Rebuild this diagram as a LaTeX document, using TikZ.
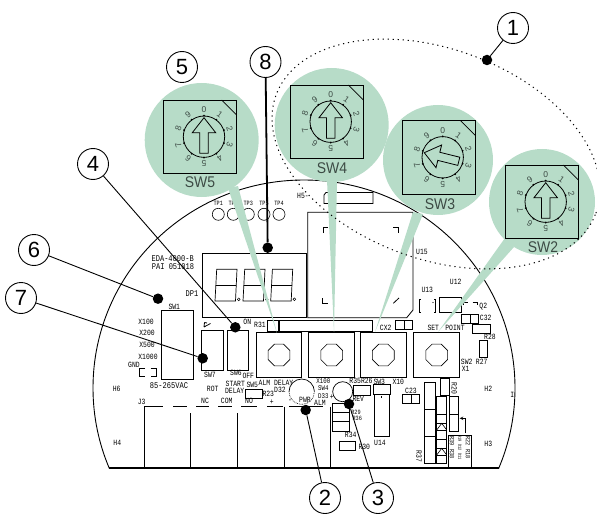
\documentclass[tikz,border=0pt]{standalone}
\usepackage{fontspec}
\setmainfont{Liberation Sans}
\newfontfamily\plotfont[FakeStretch=0.8]{Liberation Mono}
\newfontfamily\swfont[FakeStretch=0.9]{Liberation Sans}
\definecolor{mint}{HTML}{B7DCC8}
\definecolor{swtxt}{HTML}{3C4A44}
\newcounter{lbn}
\newcommand{\lb}[4][0]{\stepcounter{lbn}\node[tiny label,rotate=#1] (lb\thelbn) at (#2,#3) {#4};}
\newcommand{\smalltp}[1]{{\fontsize{6.5}{6.5}\selectfont #1}}
\newcommand{\narrowlb}[1]{{\fontsize{7.2}{7.2}\selectfont #1}}
\newcommand{\tinylb}[1]{{\fontsize{4.6}{5}\selectfont #1}}
\newcommand{\biglb}[1]{{\fontsize{8.8}{8.8}\selectfont #1}}
\newcommand{\swl}[3]{\stepcounter{lbn}\node[sw label] (lb\thelbn) at (#1,#2) {#3};}
\newcommand{\dial}[4]{%
 \begin{scope}[shift={(#1,#2)}]
  \draw[line width=.9pt] (-40.7,-36.7) rectangle (32.7,36.7);
  \draw[line width=.7pt] (17.7,-36.7) -- (32.7,-21.7);
  \draw[line width=.8pt] (0,0) circle[radius=20.7pt];
  \foreach \i in {0,...,9}{
   \pgfmathsetmacro{\a}{\i*36}
   \fill ({21*sin(\a)},{-21*cos(\a)}) circle[radius=1pt];
   \stepcounter{lbn}
   \node[dial digit,rotate=-\a] (lb\thelbn) at ({27*sin(\a)},{-27*cos(\a)}) {\i};
  }
  \begin{scope}[rotate=#3]
   \draw[line width=.8pt] (0,-19) -- (11.7,-4) -- (4.2,-4) -- (4.2,16.6) -- (-4.2,16.6) -- (-4.2,-4) -- (-11.7,-4) -- cycle;
  \end{scope}
 \end{scope}
 #4}
\newcommand{\btn}[3]{%
 \draw[line width=1pt] (#1,332.5) rectangle ++(45.8,45);
 \draw[line width=.6pt] (#2,355) +(22.5:11.8pt) -- +(67.5:11.8pt) -- +(112.5:11.8pt) -- +(157.5:11.8pt) -- +(202.5:11.8pt) -- +(247.5:11.8pt) -- +(292.5:11.8pt) -- +(337.5:11.8pt) -- cycle;}
\newcommand{\seg}[1]{%
 \begin{scope}[shift={(#1,0)}]
  \draw[line width=.7pt] (1.7,269.3) -- (22,269.3) -- (20.5,301) -- (0,301) -- cycle;
  \draw[line width=.7pt] (.9,285) -- (21.2,285);
  \draw[line width=.5pt] (23.7,299.3) circle[radius=1.4pt];
 \end{scope}}
\tikzset{
 tiny label/.style={font=\plotfont\fontsize{8}{8}\selectfont,inner sep=0pt,text=black},
 sw label/.style={font=\swfont\fontsize{15.5}{16}\selectfont,inner sep=0pt,text=swtxt},
 dial digit/.style={font=\fontsize{8.5}{9}\selectfont,inner sep=0pt,text=swtxt},
 callout/.style={circle,draw,line width=.9pt,minimum size=31pt,inner sep=0pt,font=\fontsize{22}{24}\selectfont,fill=white},
 dotmark/.style={circle,fill=black,minimum size=10.5pt,inner sep=0pt},
 comp/.style={line width=.8pt},
 leader/.style={line width=.9pt},
 bubble/.style={fill=mint,draw=none},
}
\begin{document}
\begin{tikzpicture}[x=1pt,y=-1pt]
\useasboundingbox (0,0) rectangle (597,516);
% board outline
\begin{scope}
 \clip (0,0) rectangle (597,468);
 \draw[line width=.9pt] (304,388) ellipse[x radius=211pt,y radius=208pt];
\end{scope}
\draw[line width=1.2pt] (109,468) -- (499,468);
% test points
\foreach \x in {218.3,233.3,248.3,264,279}{\draw[line width=.6pt] (\x,214.3) circle[radius=6pt];}
\lb{218.3}{203.5}{\smalltp{TP1}}\lb{233.3}{203.5}{\smalltp{TP2}}\lb{248.3}{203.5}{\smalltp{TP3}}\lb{264}{203.5}{\smalltp{TP5}}\lb{279}{203.5}{\smalltp{TP4}}
\lb{303}{196}{H5-}
% top connector
\draw[comp] (326,192.5) -- (373,192.5) -- (373,203.5) -- (324,203.5) -- (324,195) -- cycle;
% U15
\draw[comp] (307.7,317.7) -- (307.7,212.3) -- (413,212.3) -- (413,310) -- (406.7,317.7) -- cycle;
\draw[comp] (323.3,233) -- (323.3,227.3) -- (327.7,227.3);
\draw[comp] (322.7,298) -- (322.7,303.3) -- (328.3,303.3);
\draw[comp] (393.3,303.3) -- (399,298);
\draw[comp] (393.3,227.7) -- (398.3,227.7) -- (398.3,232.7);
\lb{422}{252}{U15}
% display
\draw[comp] (202.3,253.3) rectangle (306,317.3);
\seg{215}\seg{243}\seg{270.7}
\lb{172.7}{258.7}{\biglb{EDA-4000-B}}\lb{173}{267}{\biglb{PAI 051018}}\lb{192}{294}{\biglb{DP1}}
% bar
\draw[comp] (267.5,320) rectangle (372.5,331);
\draw[line width=1.6pt] (279,320) -- (279,331);
\lb{260}{325}{R31}
\btn{256}{279}{}\btn{308.4}{331.7}{}\btn{360.8}{383.3}{}\btn{413.4}{436.7}{}
% switches left
\draw[comp] (161.3,310) rectangle (193.7,379);
\draw[comp] (201.7,330.7) rectangle (223.3,370);
\draw[comp] (227,330.7) rectangle (248.7,370);
\lb{174.3}{306.7}{SW1}\lb{210}{374.7}{SW7}\lb{236}{373.3}{SW6}\lb{248.3}{376.3}{OFF}\lb{247.3}{322.3}{ON}
\draw[comp] (204,327) -- (210.5,323.5) (204,327) -- (204.5,322.5) (204.5,322.5) -- (207,323);
\lb{146}{321.7}{X100}\lb{147}{333.3}{X200}\lb{147}{345}{X500}\lb{148}{356.7}{X1000}\lb{134}{364.7}{GND}
\draw[comp] (145,368.3) -- (139.3,368.3) -- (139.3,376) -- (145,376) (150.5,368.3) -- (156,368.3) -- (156,376) -- (150.5,376);
\lb{169}{385.3}{\biglb{85-265VAC}}\lb{212.7}{389}{ROT}\lb{235.3}{384}{START}\lb{234.7}{390.7}{DELAY}\lb{252.3}{384.7}{SW5}
\draw[line width=1pt] (245,389.3) rectangle (262.3,398.3);
\lb{268.3}{394.3}{R23}\lb{276}{382.7}{ALM DELAY}\lb{280}{390}{D32}
\lb{323.3}{381.5}{\narrowlb{X100}}\lb{323.3}{388.6}{\narrowlb{SW4}}\lb{323.3}{395.7}{\narrowlb{D33}}\lb{305}{400}{PWR}\lb{320}{403}{ALM}
\draw[line width=.7pt] (314.4,391.7) arc[start angle=0,end angle=180,radius=12.7pt];
\draw[line width=.7pt,densely dotted] (289,391.7) arc[start angle=180,end angle=360,radius=12.7pt];
\draw[line width=.7pt] (342.7,391.7) circle[radius=10pt];
% J3
\lb{141.7}{402.3}{J3}\lb{205}{401.3}{NC}\lb{226.7}{401.3}{COM}\lb{249}{401.3}{NO}\lb{271.7}{401.7}{+}\lb{290}{401}{-}
\lb{116.7}{389.3}{H6}\lb{117.3}{442.7}{H4}
\foreach \a/\b in {144/163,173/187,196/209,218/232,241/257,267/283,289/323}{\draw[comp] (\a,406.7) -- (\b,406.7);}
\foreach \x in {144,284,330.3}{\draw[line width=.9pt] (\x,406.7) -- (\x,468);}
\foreach \x in {190.7,237.3}{\draw[line width=.9pt] (\x,413) -- (\x,468);}
% right components
\lb{427.3}{290}{U13}\lb{455.7}{282}{U12}
\draw[comp] (420.5,299) -- (419,299) -- (419,312.3) -- (420.5,312.3) (434,299) -- (435.7,299) -- (435.7,312.3) -- (434,312.3);
\fill (433,302.5) circle[radius=.7pt];
\draw[comp] (439.3,297.7) rectangle (461.7,312.7);
\draw[comp] (463,305) -- (463,302.3) -- (468,302.3) (472.5,302.3) -- (477,302.3) -- (477,305);
\lb{483.3}{306.7}{Q2}
\draw[comp] (461.7,314) rectangle (478.3,323.3);\draw[line width=.5pt] (470,314) -- (470,323.3);
\lb{485.7}{318.3}{C32}
\draw[comp] (472.7,324) rectangle (490,333.3);\lb{490}{336.7}{R28}
\draw[comp] (479,340.7) rectangle (487.7,357.7);\lb{481.7}{362.3}{R27}
\lb{385.7}{328.3}{CX2}
\draw[comp] (395.7,320.7) rectangle (412.3,329.3);\draw[line width=.5pt] (404,320.7) -- (404,329.3);
\lb{433.3}{328.3}{SET}\lb{455}{328.3}{POINT}\lb{466.7}{362.3}{SW2}\lb{465.7}{369}{X1}\lb{398.3}{382.3}{X10}
\lb{361}{381}{R35R26}\lb{379.3}{381.7}{SW3}\lb{411}{390.7}{C23}
\draw[comp] (440,378.3) rectangle (449.3,395.7);\lb[-90]{454.3}{388.3}{R20}
\lb{488.3}{389}{H2}\lb{512.3}{395}{I}\lb{488.3}{444}{H3}
\lb{358.3}{399.3}{REV}
\draw[comp] (353.3,385.7) rectangle (370,395);
\draw[comp] (373.3,384.3) rectangle (390.7,394);
\draw[comp] (374,394) rectangle (389.3,436);
\draw[line width=.5pt] (381.5,396) -- (381.5,398);
\lb{380}{443.3}{U14}
\draw[comp] (402.7,394.3) rectangle (419.3,403.3);\draw[line width=.5pt] (411,394.3) -- (411,403.3);
\draw[comp] (424,382.7) rectangle (435.3,463.3);\draw[comp] (424,409.3) -- (435.3,409.3) (424,436.7) -- (435.3,436.7);
\lb[-90]{419}{456.7}{R37}
\draw[comp] (436.7,396.7) rectangle (446.7,463.3);
\foreach \y in {414.3,423.3,430,439.3,448.3,455}{\draw[comp] (436.7,\y) -- (446.7,\y);}
\draw[line width=.6pt] (436.7,430) -- (441.7,423.3) -- (446.7,430) (436.7,455) -- (441.7,448.3) -- (446.7,455);
\draw[comp] (449.3,396.7) rectangle (458.7,431.7);\draw[comp] (449.3,414.3) -- (458.7,414.3);
\draw[line width=.6pt,->,>=stealth] (465.7,433) -- (465.7,418.3) -- (459.7,418.3);
\draw[comp] (448.3,435) rectangle (471,468);
\lb[-90]{468}{447.5}{\smalltp{R22 R18}}\lb[-90]{460}{447.5}{\tinylb{R19 D12 D11}}\lb[-90]{452}{447.5}{\smalltp{R39 R38}}
\draw[comp] (339,441.7) rectangle (355.7,450.7);\lb{364.3}{447.3}{R30}\lb{350.7}{435}{R34}
\lb{356}{412}{\smalltp{R29}}\lb{357.3}{418.5}{\smalltp{R36}}
\draw[comp] (332.3,403.3) rectangle (349.3,431.7);\draw[comp] (332.3,412.3) -- (349.3,412.3) (332.3,421.7) -- (349.3,421.7);
\lb{331.7}{397.3}{+}
% green bubbles
\fill[bubble] (201.7,140) circle[radius=57pt];
\fill[bubble] (331.7,125) circle[radius=57pt];
\fill[bubble] (438,160) circle[radius=55pt];
\fill[bubble] (542,202) circle[radius=53pt];
\fill[bubble] (228,188) -- (238,186) -- (277,333) -- cycle;
\fill[bubble] (327,180) -- (337,180) -- (334,332) -- cycle;
\fill[bubble] (413,212) -- (423,214) -- (375,332) -- cycle;
\fill[bubble] (505,238) -- (514,247) -- (438,332) -- cycle;
\dial{204}{136.7}{0}{\swl{200}{182.3}{SW5}}
\dial{330.7}{121.7}{0}{\swl{332}{168}{SW4}}
\dial{442.7}{157.3}{76}{\swl{440}{204}{SW3}}
\dial{545.7}{201.7}{0}{\swl{543}{247}{SW2}}
% dotted ellipse
\draw[line width=1pt,dash pattern=on 1.2pt off 3.8pt,shift={(436,154)},rotate=-20.3] (0,0) ellipse[x radius=170.5pt,y radius=105pt];
% callouts
\node[callout] (c1) at (513,28) {1};
\node[callout] (c5) at (182,67) {5};
\node[callout] (c8) at (265.5,62) {8};
\node[callout] (c4) at (93,164) {4};
\node[callout] (c6) at (34,250) {6};
\node[callout] (c7) at (21,298) {7};
\node[callout] (c2) at (325,498) {2};
\node[callout] (c3) at (378,498) {3};
\node[dotmark] (d1) at (487,60) {};
\node[dotmark] (d8) at (267.7,247.7) {};
\node[dotmark] (d4) at (235.3,327.3) {};
\node[dotmark] (d6) at (158,298.7) {};
\node[dotmark] (d7) at (202.7,358.3) {};
\node[dotmark] (d2) at (305.7,410) {};
\node[dotmark] (d3) at (349,404) {};
\draw[leader] (c1) -- (d1);
\draw[line width=1.8pt] (c8) -- (d8);
\draw[leader] (c4) -- (d4);
\draw[leader] (c6) -- (d6);
\draw[leader] (c7) -- (d7);
\draw[leader] (c2) -- (d2);
\draw[leader] (c3) -- (d3);
\end{tikzpicture}
\end{document}
